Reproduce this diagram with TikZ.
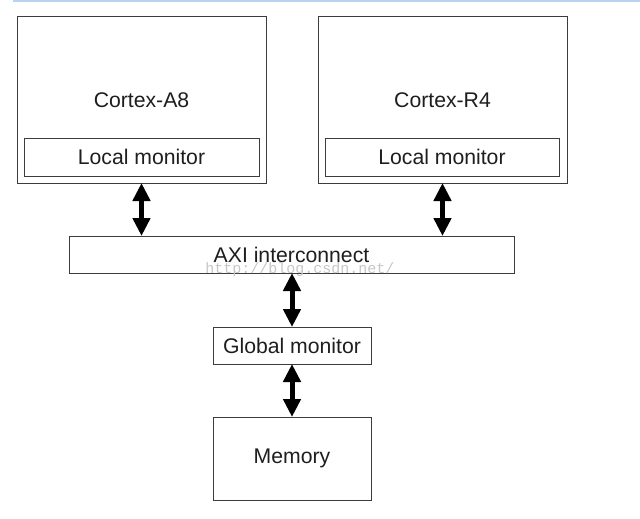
\documentclass[tikz,border=0pt]{standalone}
\usepackage{fontspec}
\setmainfont{Liberation Sans}
\newfontfamily\wmfont{Liberation Mono}
\usetikzlibrary{arrows.meta}
\definecolor{edge}{RGB}{60,60,60}
\definecolor{ink}{RGB}{30,30,30}
\definecolor{topline}{RGB}{185,212,240}
\tikzset{
  box/.style={draw=edge, line width=1pt, fill=white, inner sep=0pt, outer sep=0pt, text=ink,
    font=\fontsize{21.2}{25}\selectfont},
  bigarrow/.style={line width=5pt, black,
    {Triangle[length=18pt,width=17pt]}-{Triangle[length=18pt,width=17pt]}}
}
\begin{document}
\begin{tikzpicture}[x=1pt,y=-1pt]
\useasboundingbox (0,0) rectangle (640,519);
\coordinate (tl) at (13,1.2);
\coordinate (tr) at (640,1.2);
\draw[topline, line width=2.2pt] (tl) -- (tr);

\node[box, minimum width=249pt, minimum height=166pt] (a8) at (141.5,100) {Cortex-A8};
\node[box, minimum width=235pt, minimum height=38pt] (lm1) at (141.5,157) {Local monitor};
\node[box, minimum width=249pt, minimum height=166pt] (r4) at (442.5,100) {Cortex-R4};
\node[box, minimum width=234pt, minimum height=38pt] (lm2) at (442,157) {Local monitor};
\node[box, minimum width=445pt, minimum height=37pt] (axi) at (291.5,254.5) {AXI interconnect};
\node[box, minimum width=158pt, minimum height=37pt] (gm) at (292,345.5) {Global monitor};
\node[box, minimum width=158pt, minimum height=83pt] (mem) at (292,458.5) {Memory};

\draw[bigarrow] (a8.south) -- (a8.south |- axi.north);
\draw[bigarrow] (r4.south) -- (r4.south |- axi.north);
\draw[bigarrow] (axi.south -| gm.north) -- (gm.north);
\draw[bigarrow] (gm.south) -- (mem.north);

\node[text=black!22, font=\wmfont\fontsize{15}{18}\selectfont, inner sep=0pt] (wm) at (300,270) {http://blog.csdn.net/};
\end{tikzpicture}
\end{document}
